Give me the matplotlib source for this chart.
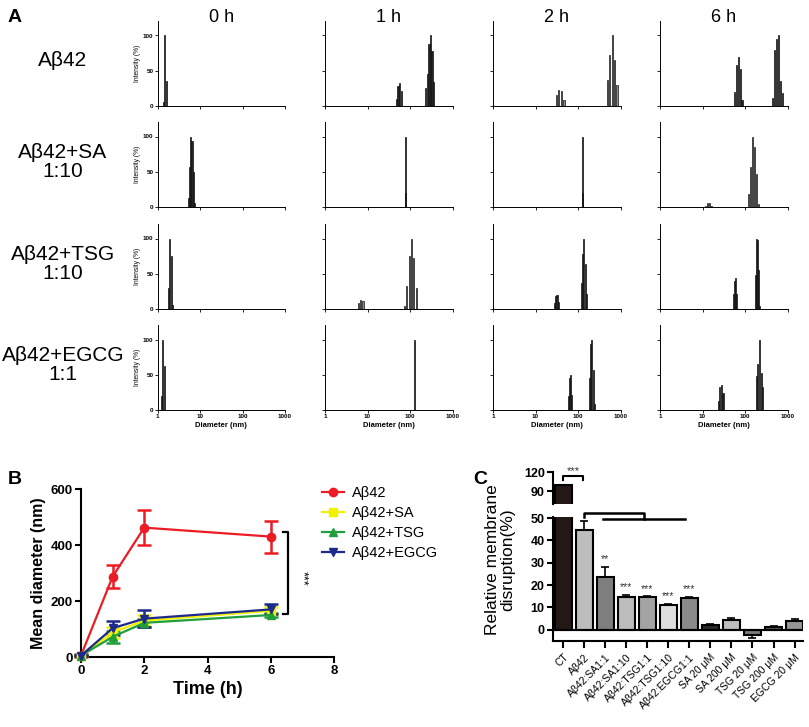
import matplotlib
matplotlib.use('Agg')
import matplotlib.pyplot as plt
import numpy as np

plt.rcParams['font.family'] = ['Liberation Sans', 'DejaVu Sans']

# ---------------- Panel A data (diameter nm, intensity %) ----------------
A42_0H_D = [1.36, 1.46, 1.6]
A42_0H_I = [6, 100, 36]
A42_1H_D = [48, 52, 57, 62, 234, 255, 279, 300, 328, 359]
A42_1H_I = [10, 28, 32, 21, 26, 45, 88, 100, 78, 34]
A42_2H_D = [31.6, 35, 41, 47, 488, 562, 635, 720, 830]
A42_2H_I = [15, 22, 21, 8, 37, 72, 100, 65, 30]
A42_6H_D = [57, 63, 70, 78, 85, 453, 503, 562, 616, 674, 750]
A42_6H_I = [20, 58, 70, 52, 9, 11, 79, 95, 100, 36, 18]

SA_0H_D = [5.25, 5.65, 6.07, 6.5, 6.9, 7.4]
SA_0H_I = [13, 57, 100, 93, 49, 5]
SA_1H_D = [77, 79.5]
SA_1H_I = [100, 20]
SA_2H_D = [125, 129]
SA_2H_I = [100, 20]
SA_6H_D = [11.9, 13, 14.5, 16.5, 120, 134.5, 150, 167, 186, 211]
SA_6H_I = [2, 5, 6, 1.5, 19, 57, 100, 85, 47, 4]

TSG_0H_D = [1.78, 1.95, 2.1, 2.25]
TSG_0H_I = [30, 100, 75, 6]
TSG_1H_D = [6.2, 6.9, 7.86, 74, 84, 95.5, 108, 123, 142]
TSG_1H_I = [9, 13, 11, 4, 33, 75, 100, 72, 30]
TSG_2H_D = [27.9, 30, 32.2, 34.7, 118.6, 127, 137, 147, 158]
TSG_2H_I = [9, 19, 20, 10, 37, 78, 100, 64, 21]
TSG_6H_D = [54.5, 57.5, 60.7, 64, 173, 183, 193, 204, 215]
TSG_6H_I = [21, 40, 44, 21, 48, 100, 98, 55, 4]

EGCG_0H_D = [1.22, 1.33, 1.44]
EGCG_0H_I = [20, 100, 63]
EGCG_1H_D = [125]
EGCG_1H_I = [100]
EGCG_2H_D = [58.5, 61.8, 66.4, 70, 186, 197, 211, 227, 240]
EGCG_2H_I = [20, 46, 49, 21, 46, 94, 100, 57, 8]
EGCG_6H_D = [23.3, 25.5, 27.9, 30.5, 183, 200, 223, 240, 258]
EGCG_6H_I = [13, 32, 35, 24, 48, 65, 100, 52, 33]

TIME_TITLES = ['0 h', '1 h', '2 h', '6 h']
ROW_LABELS = ['Aβ42', 'Aβ42+SA\n1:10', 'Aβ42+TSG\n1:10', 'Aβ42+EGCG\n1:1']
DIAM_TICKS = [1, 10, 100, 1000]
DIAM_TICKLABELS = ['1', '10', '100', '1000']
INT_TICKS = [0, 50, 100]

# ---------------- Panel B data ----------------
TIME_H = [0, 1, 2, 6]
B_LABELS = ['Aβ42', 'Aβ42+SA', 'Aβ42+TSG', 'Aβ42+EGCG']
B_A42 = [5, 287, 462, 430]
B_A42_ERR = [5, 40, 62, 57]
B_SA = [5, 88, 130, 165]
B_SA_ERR = [3, 20, 20, 12]
B_TSG = [5, 72, 122, 150]
B_TSG_ERR = [3, 22, 15, 8]
B_EGCG = [5, 103, 137, 170]
B_EGCG_ERR = [3, 25, 30, 18]

# ---------------- Panel C data ----------------
C_LABELS = ['CT', 'Aβ42', 'Aβ42:SA1:1', 'Aβ42:SA1:10', 'Aβ42:TSG1:1', 'Aβ42:TSG1:10',
            'Aβ42:EGCG1:1', 'SA 20 μM', 'SA 200 μM', 'TSG 20 μM', 'TSG 200 μM', 'EGCG 20 μM']
C_VALUES = [100, 44.6, 23.8, 14.7, 14.7, 11.3, 14.4, 2.2, 4.4, -2.1, 1.2, 4.0]
C_ERRORS = [0, 4.0, 4.2, 0.9, 0.3, 0.3, 0.3, 0.5, 1.0, 1.6, 0.3, 0.9]
C_STARS = ['', '', '**', '***', '***', '***', '***', '', '', '', '', '']

# ---------------- figure ----------------
W, H = 809, 727
fig = plt.figure(figsize=(W / 100, H / 100), dpi=100)


def fx(px):
    return px / W


def fy(py):
    return 1 - py / H


hist_rows = [
    [(A42_0H_D, A42_0H_I), (A42_1H_D, A42_1H_I), (A42_2H_D, A42_2H_I), (A42_6H_D, A42_6H_I)],
    [(SA_0H_D, SA_0H_I), (SA_1H_D, SA_1H_I), (SA_2H_D, SA_2H_I), (SA_6H_D, SA_6H_I)],
    [(TSG_0H_D, TSG_0H_I), (TSG_1H_D, TSG_1H_I), (TSG_2H_D, TSG_2H_I), (TSG_6H_D, TSG_6H_I)],
    [(EGCG_0H_D, EGCG_0H_I), (EGCG_1H_D, EGCG_1H_I), (EGCG_2H_D, EGCG_2H_I), (EGCG_6H_D, EGCG_6H_I)],
]
light = {(0, 2), (1, 3), (2, 1)}

col_left = [157.5, 325, 493, 660]
row_zero = [106, 207, 309, 410]
aw, ah = 127.5, 84.6
hw = 0.014  # half bar width in decades

for r in range(4):
    for c in range(4):
        ax = fig.add_axes([fx(col_left[c]), fy(row_zero[r]), aw / W, ah / H])
        d = np.array(hist_rows[r][c][0], dtype=float)
        inten = np.array(hist_rows[r][c][1], dtype=float)
        left = d * 10 ** (-hw)
        right = d * 10 ** hw
        fc = '#8f8f8f' if (r, c) in light else '#2a2220'
        ax.bar(left, inten, width=right - left, align='edge', color=fc,
               edgecolor='#111111', linewidth=0.5)
        ax.set_xscale('log')
        ax.set_xlim(1, 1000)
        ax.set_ylim(0, 120)
        ax.set_xticks(DIAM_TICKS)
        ax.minorticks_off()
        ax.set_yticks(INT_TICKS)
        for s in ['top', 'right']:
            ax.spines[s].set_visible(False)
        for s in ['left', 'bottom']:
            ax.spines[s].set_linewidth(0.7)
        ax.tick_params(length=2, width=0.6, pad=1, labelsize=4.5)
        if c == 0:
            ax.set_yticklabels([str(t) for t in INT_TICKS], fontweight='bold')
            ax.set_ylabel('Intensity (%)', fontsize=4.8, labelpad=1.5)
        else:
            ax.set_yticklabels([])
        if r == 3:
            ax.set_xticklabels(DIAM_TICKLABELS, fontweight='bold')
            ax.set_xlabel('Diameter (nm)', fontsize=5.5, fontweight='bold', labelpad=2)
        else:
            ax.set_xticklabels([])
        if r == 0:
            fig.text(fx(col_left[c] + aw / 2), fy(18), TIME_TITLES[c], fontsize=13,
                     ha='center', va='center')

row_label_y = [60, 162, 264, 365]
for r in range(4):
    fig.text(fx(63), fy(row_label_y[r]), ROW_LABELS[r], fontsize=15, ha='center',
             va='center', linespacing=1.05)

fig.text(fx(8), fy(18), 'A', fontsize=14, fontweight='bold', ha='left', va='center')
fig.text(fx(8), fy(479), 'B', fontsize=14, fontweight='bold', ha='left', va='center')
fig.text(fx(473), fy(479), 'C', fontsize=14, fontweight='bold', ha='left', va='center')

# ---------------- Panel B ----------------
axb = fig.add_axes([fx(81), fy(657), (334 - 81) / W, (657 - 489) / H])
b_series = [(B_A42, B_A42_ERR, '#ec1c24', 'o'),
            (B_SA, B_SA_ERR, '#f2f200', 's'),
            (B_TSG, B_TSG_ERR, '#1f9e3a', '^'),
            (B_EGCG, B_EGCG_ERR, '#1c2a8c', 'v')]
handles = []
for (vals, errs, col, mk), lab in zip(b_series, B_LABELS):
    axb.errorbar(TIME_H, vals, yerr=errs, fmt='none', ecolor=col, elinewidth=1.8,
                 capsize=5, capthick=1.8, clip_on=False, zorder=3)
    h, = axb.plot(TIME_H, vals, color=col, marker=mk, markersize=6, lw=1.6,
                  label=lab, clip_on=False, zorder=4)
    handles.append(h)
axb.set_xlim(0, 8)
axb.set_ylim(0, 600)
axb.set_xticks([0, 2, 4, 6, 8])
axb.set_yticks([0, 200, 400, 600])
for s in ['top', 'right']:
    axb.spines[s].set_visible(False)
for s in ['left', 'bottom']:
    axb.spines[s].set_linewidth(1.5)
axb.tick_params(width=1.5, length=4, labelsize=9.5, pad=2)
for t in axb.get_xticklabels() + axb.get_yticklabels():
    t.set_fontweight('bold')
axb.set_xlabel('Time (h)', fontsize=13, fontweight='bold', labelpad=3)
axb.set_ylabel('Mean diameter (nm)', fontsize=11.5, fontweight='bold', labelpad=3)
axb.plot([6.38, 6.55, 6.55, 6.38], [447, 447, 153, 153], color='black', lw=1.6,
         clip_on=False)
axb.text(7.0, 280, '***', rotation=270, fontsize=9, ha='center', va='center')
fig.legend(handles=handles, labels=B_LABELS, loc='upper left',
           bbox_to_anchor=(fx(316), fy(480)), frameon=False, fontsize=10.5,
           handlelength=1.5, labelspacing=0.42, borderaxespad=0, handletextpad=0.6)

# ---------------- Panel C ----------------
x = np.arange(len(C_LABELS))
vals = np.array(C_VALUES)
errs = np.array(C_ERRORS)
err_low = np.where(vals < 0, errs, 0)
err_up = np.where(vals >= 0, errs, 0)
c_colors = ['#231815', '#bdbdbd', '#7e7e7e', '#bcbcbc', '#a3a3a3', '#dedede',
            '#8a8a8a', '#2a2a2a', '#bdbdbd', '#7a7a7a', '#5a5a5a', '#969696']

c_left, c_right = 553, 803
axc = fig.add_axes([fx(c_left), fy(641), (c_right - c_left) / W, (641 - 516.9) / H])
axu = fig.add_axes([fx(c_left), fy(503.7), (c_right - c_left) / W, (503.7 - 472) / H])
for a in (axc, axu):
    a.bar(x, vals, width=0.8, color=c_colors, edgecolor='black', linewidth=1.5, zorder=2)
    a.errorbar(x, vals, yerr=[err_low, err_up], fmt='none', ecolor='black',
               elinewidth=1.2, capsize=3, capthick=1.2, zorder=1)
    a.set_xlim(-0.48, 11.4)
    for s in ['top', 'right']:
        a.spines[s].set_visible(False)
    a.spines['left'].set_linewidth(1.5)
    a.tick_params(width=1.5, length=4, labelsize=9, pad=2)

axc.set_ylim(-5, 50.5)
axc.set_yticks([0, 10, 20, 30, 40, 50])
axc.spines['bottom'].set_linewidth(1.5)
axc.axhline(0, color='black', lw=1.5, zorder=3)
axc.set_xticks(x)
axc.set_xticklabels(C_LABELS, rotation=45, ha='right', rotation_mode='anchor', fontsize=7.5)
axc.tick_params(axis='x', length=5, pad=3)
for t in axc.get_yticklabels():
    t.set_fontweight('bold')

axu.set_ylim(70, 120)
axu.set_yticks([90, 120])
axu.spines['bottom'].set_visible(False)
axu.set_xticks([])
for t in axu.get_yticklabels():
    t.set_fontweight('bold')

# significance marks
for i, s in enumerate(C_STARS):
    if s:
        axc.text(x[i], vals[i] + err_up[i] + 1.2, s, ha='center', va='bottom',
                 fontsize=7.5, color='#333333')
axc.plot([1, 1, 3.85, 3.85], [50.5, 52.3, 52.3, 49.6], color='black', lw=1.8,
         clip_on=False)
axc.plot([1.9, 5.8], [49.6, 49.6], color='black', lw=1.8, clip_on=False)
axu.plot([0, 0, 0.95, 0.95], [107, 113, 113, 107], color='black', lw=1.5, clip_on=False)
axu.text(0.5, 114, '***', ha='center', va='bottom', fontsize=8, color='#333333',
         clip_on=False)

fig.text(fx(500), fy(560), 'Relative membrane\ndisruption(%)', rotation=90,
         fontsize=12.5, ha='center', va='center', linespacing=1.0)

fig.savefig('out.png', dpi=100)
